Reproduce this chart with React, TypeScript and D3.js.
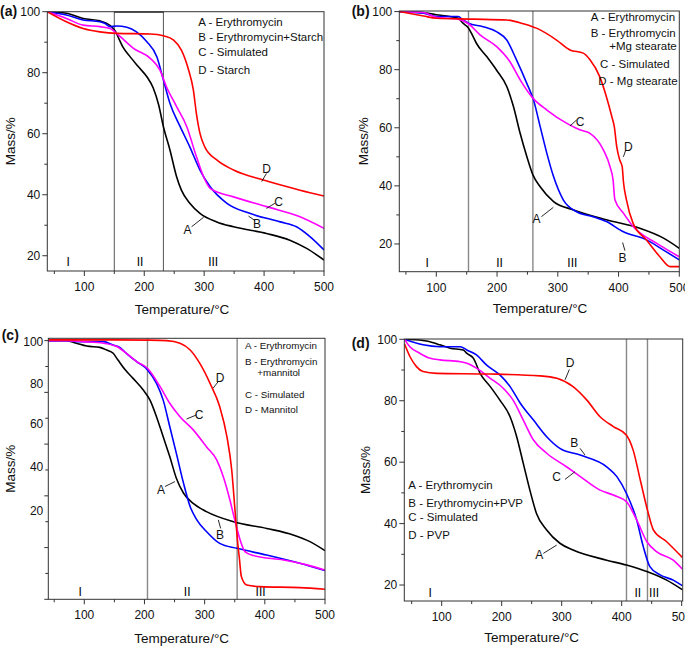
import React from "react";
import * as d3 from "d3";

type P = [number, number];

const FONT = "'Liberation Sans', Arial, Helvetica, sans-serif";
const COLORS = { A: "#000000", B: "#0000ff", C: "#ff00ff", D: "#ff0000" };

// ---------- Panel (a): Starch ----------
const aA: P[] = [[38,100],[70,99.5],[98,97.8],[126,97],[137,96.2],[146,95],[152,93.5],[158,91],[165,88.2],[175,85.6],[190,82],[205,78.5],[215,75],[224,69.5],[232,62.3],[243,54.6],[254,45.9],[262,41.5],[276,37.2],[293,33.9],[321,31.1],[349,29.5],[404,27.3],[443,25.1],[471,22.4],[500,18.6]];
const aB: P[] = [[38,100],[70,98.9],[98,97.3],[126,96.7],[134,96.2],[143,95.1],[154,95.3],[171,94.9],[187,93.4],[204,90.2],[221,85.2],[232,77.6],[243,69.9],[260,62.3],[276,55.7],[293,48.1],[310,42.6],[338,37.2],[376,33.9],[427,31.1],[454,29.5],[477,26.2],[500,21.9]];
const aC: P[] = [[38,100],[70,97.8],[98,95.6],[126,95.1],[143,94.5],[160,91.8],[182,88],[210,84.7],[226,80.9],[237,75.4],[254,68.9],[271,62.3],[287,52.5],[299,45.9],[310,42.1],[349,39.3],[404,36.1],[460,32.8],[500,29]];
const aD: P[] = [[38,100],[70,96.7],[98,94.5],[126,93.4],[154,92.9],[210,92.7],[232,92.1],[249,90.7],[262,87.4],[274,80.9],[282,74.3],[287,66.7],[293,60.1],[301,55.7],[321,51.4],[349,48.1],[399,44.8],[460,41.5],[500,39.6]];
const aLegend = ["A - Erythromycin", "B - Erythromycin+Starch", "C - Simulated", "D - Starch"];
const aRegions = [150, 232];
const aRoman: [string, number][] = [["I", 73], ["II", 193], ["III", 315]];
// label, label T, label M, leader from (T,M) to (T,M)
const aTags: [string, number, number, number, number, number, number][] = [
  ["D", 404, 48.6, 396, 44.3, 404, 47.0],
  ["C", 424, 37.7, 404, 35.5, 418, 37.2],
  ["B", 388, 30.6, 374, 33.0, 385, 31.5],
  ["A", 272, 28.6, 279, 29.5, 299, 32.6],
];

// ---------- Panel (b): Mg stearate ----------
const bA: P[] = [[39,100],[79,99.7],[100,98.9],[122,98.3],[136,97.7],[144,96],[153,94.3],[158,92.5],[166,89.1],[183,84.5],[199,79.9],[216,74.2],[227,67.3],[238,58.1],[249,50.1],[259,43.8],[271,39.7],[293,34.6],[326,31.7],[380,28.3],[435,25.4],[474,22],[500,18.5]];
const bB: P[] = [[39,100],[79,99.4],[100,98.3],[136,98.3],[144,97.1],[153,96],[177,94.8],[199,93.1],[216,90.2],[232,83.4],[249,75.3],[260,69.6],[271,60.4],[282,51.2],[293,43.2],[309,35.2],[331,31.1],[358,29.4],[380,27.7],[408,24.2],[446,21.4],[474,17.9],[500,14.5]];
const bC: P[] = [[39,100],[79,99.7],[100,98],[136,97.4],[153,95.8],[172,92],[199,88],[221,82.8],[238,76.5],[259,70.2],[282,66.1],[315,61.5],[336,59.3],[353,58.1],[375,52.4],[386,46.6],[391,42],[394,35.2],[408,30.6],[424,26],[463,20.2],[500,15.6]];
const bD: P[] = [[39,100],[79,98.5],[100,97.7],[161,97.4],[216,97.1],[243,95.8],[271,93.7],[298,90.2],[320,86.8],[342,85.7],[353,83.4],[369,77.6],[380,70.7],[389,63.8],[393,60.4],[397,53.5],[402,48.9],[406,46.6],[408,41.5],[413,35.2],[424,27.1],[446,21.4],[468,15.6],[485,12.2],[500,12.2]];
const bLegend = ["A - Erythromycin", "B - Erythromycin", "+Mg stearate", "C - Simulated", "D - Mg stearate"];
const bRegions = [153, 259];
const bRoman: [string, number][] = [["I", 85], ["II", 204], ["III", 324]];
const bTags: [string, number, number, number, number, number, number][] = [
  ["C", 336.5, 62.1, 320, 60.6, 331, 62.7],
  ["D", 416, 53.5, 408, 50.0, 412, 52.4],
  ["A", 265, 28.8, 273, 29.4, 292.6, 32.6],
  ["B", 406.7, 15.4, 406.7, 20.5, 410.5, 17.7],
];

// ---------- Panel (c): Mannitol ----------
const cA: P[] = [[40,100],[71,100],[87,99],[104,97.9],[126,97.4],[137,96.4],[148,95.1],[156,92.5],[168,88.7],[181,85.4],[198,80.9],[209,77.1],[220,70.6],[231,62.9],[242,55.2],[253,46.8],[265,41],[281,37.1],[303,33.9],[348,30],[403,27.4],[447,24.9],[475,22.3],[500,18.8]];
const cB: P[] = [[40,100],[71,100],[93,99.6],[132,99.6],[148,98.3],[159,97.4],[170,95.1],[187,91.9],[205,88.7],[220,83.5],[231,77.1],[242,66.8],[253,56.4],[265,44.8],[276,35.8],[287,30.7],[303,26.2],[325,21.6],[354,19.7],[403,17.1],[458,13.9],[500,11.1]];
const cC: P[] = [[40,100],[71,100],[98,99.6],[132,99],[154,97.7],[170,95.1],[187,91.9],[205,89.3],[226,82.2],[242,75.8],[259,70.6],[281,65.5],[303,59],[320,53.9],[331,47.4],[342,38.4],[350,30.7],[359,22.9],[367,18.4],[381,16.9],[431,15.2],[470,13.3],[500,11.3]];
const cD: P[] = [[40,100.3],[150,100.3],[209,100.2],[237,100],[259,99],[276,96.4],[292,91.2],[309,83.5],[325,74.5],[337,62.9],[345,50],[350,35.8],[354,24.2],[358,15.2],[361,8.8],[370,5.5],[392,4.9],[458,4.5],[500,3.9]];
const cLegend = ["A - Erythromycin", "B - Erythromycin", "+mannitol", "C - Simulated", "D - Mannitol"];
const cRegions = [205, 354];
const cRoman: [string, number][] = [["I", 93], ["II", 271], ["III", 393]];
const cYTickLabels = ["100", "80", "60", "40", "20"];
const cYTickLabelAt = [99.6, 83.5, 67.8, 51.3, 34.3];
const cTags: [string, number, number, number, number, number, number][] = [
  ["D", 325.5, 85.8, 314, 81.6, 322.7, 84.2],
  ["C", 290.6, 71.3, 270, 69.7, 286.7, 71.3],
  ["A", 227.4, 42.3, 234, 43.6, 250.7, 45.5],
  ["B", 325.5, 24.9, 322.7, 30.7, 326.6, 27.4],
];

// ---------- Panel (d): PVP ----------
const dA: P[] = [[38,100],[69,99.6],[86,98.9],[97,98.2],[114,97.1],[136,96.5],[142,95.4],[153,93.8],[164,88.9],[181,84.6],[197,80.2],[214,74.8],[225,68.3],[236,59.6],[247,50.9],[258,43.3],[275,37.9],[297,33.6],[319,31.4],[375,28.1],[408,26.5],[443,24.3],[475,21.6],[501,18.5]];
const dB: P[] = [[38,100],[69,98.2],[97,97.6],[131,97.6],[142,96.5],[158,94.9],[175,91.6],[197,88.4],[214,84.6],[231,79.2],[253,73.7],[275,68.3],[297,64.5],[331,62.3],[375,58.5],[392,55.3],[408,49.8],[425,41.2],[436,32.5],[447,26],[464,23.3],[486,21.6],[501,19.8]];
const dC: P[] = [[38,100],[47,97.6],[64,95.4],[81,93.8],[97,93.3],[131,92.7],[142,92.2],[158,90.6],[181,87.3],[203,84],[219,80.2],[236,73.7],[253,67.2],[275,62.9],[308,58.5],[331,55.3],[364,50.9],[386,49.3],[408,47.1],[425,41.2],[442,34.1],[458,30.9],[486,28.1],[501,25.2]];
const dD: P[] = [[38,98.5],[47,94.4],[58,91.1],[69,89.5],[92,88.9],[181,88.7],[264,88.1],[292,87.3],[319,84.6],[342,80.2],[364,74.8],[386,71.6],[408,68.8],[419,64],[431,54.2],[443,44.4],[453,37.9],[475,34.1],[501,29]];
const dLegend = ["A - Erythromycin", "B - Erythromycin+PVP", "C - Simulated", "D - PVP"];
const dRegions = [408, 443];
const dRoman: [string, number][] = [["I", 81], ["II", 427], ["III", 454]];
const dTags: [string, number, number, number, number, number, number][] = [
  ["D", 313.9, 92.4, 305.6, 86.8, 312.8, 90.2],
  ["B", 321, 66.3, 330.6, 64.5, 338.9, 62.3],
  ["C", 291.7, 55.3, 305.6, 54.4, 322.2, 56.9],
  ["A", 262.8, 29.8, 269.4, 30.3, 291.7, 33.0],
];

const xMajor = [100, 200, 300, 400, 500];
const xMinor = [50, 150, 250, 350, 450];
const yMajor = [20, 40, 60, 80, 100];
const yMinor = [30, 50, 70, 90];
const cYTicks = [0, 10, 20, 30, 40, 50, 60, 70, 80, 90, 100];

type Cfg = {
  id: string;
  name: string;
  left: number; right: number; top: number; bottom: number;
  xDomain: [number, number]; yDomain: [number, number];
  series: P[][];
  regions: number[];
  regionBox?: boolean;
  regionColor: string;
  roman: [string, number][];
  romanY: number;
  tags: [string, number, number, number, number, number, number][];
  legend: string[];
  legendPos: [number, number][];
  legendSize: number;
  labelPos: [number, number];
  xTitle: [number, number];
  yTitleX: number;
  cAxis?: boolean;
};

const panels: Cfg[] = [
  {
    id: "a", name: "(a)", left: 47.3, right: 324, top: 11.7, bottom: 271,
    xDomain: [38.2, 500], yDomain: [15, 100],
    series: [aA, aB, aC, aD], regions: aRegions, regionBox: true, regionColor: "#555",
    roman: aRoman, romanY: 266, tags: aTags, legend: aLegend,
    legendPos: [[198.3, 25.7], [198.3, 41.3], [198.3, 56.3], [198.3, 74]], legendSize: 11.5,
    labelPos: [0, 16], xTitle: [182, 314], yTitleX: 10,
  },
  {
    id: "b", name: "(b)", left: 399.3, right: 679.3, top: 11, bottom: 271.7,
    xDomain: [39.1, 500], yDomain: [10.45, 100.2],
    series: [bA, bB, bC, bD], regions: bRegions, regionColor: "#888",
    roman: bRoman, romanY: 267, tags: bTags, legend: bLegend,
    legendPos: [[590.7, 20.7], [590.7, 37], [609.3, 50], [600, 68.3], [598.3, 85]], legendSize: 11.5,
    labelPos: [351.7, 16], xTitle: [540, 313], yTitleX: 363,
  },
  {
    id: "c", name: "(c)", left: 48.3, right: 325, top: 338.3, bottom: 599.3,
    xDomain: [40.2, 500], yDomain: [0, 100.9],
    series: [cA, cB, cC, cD], regions: cRegions, regionColor: "#888",
    roman: cRoman, romanY: 596, tags: cTags, legend: cLegend,
    legendPos: [[245, 348.5], [245, 364.5], [257.3, 375.8], [245, 397.5], [245, 412.5]], legendSize: 9.8,
    labelPos: [1.7, 340], xTitle: [181.7, 643], yTitleX: 10, cAxis: true,
  },
  {
    id: "d", name: "(d)", left: 404.3, right: 682.7, top: 339, bottom: 601,
    xDomain: [37.7, 501.7], yDomain: [14.8, 100.1],
    series: [dA, dB, dC, dD], regions: dRegions, regionColor: "#888",
    roman: dRoman, romanY: 597, tags: dTags, legend: dLegend,
    legendPos: [[408.3, 489], [408.3, 506.7], [408.3, 520.7], [408.3, 539]], legendSize: 11.5,
    labelPos: [351.7, 348], xTitle: [531.7, 641.5], yTitleX: 365,
  },
];

const seriesColors = [COLORS.A, COLORS.B, COLORS.C, COLORS.D];

function Panel({ cfg }: { cfg: Cfg }) {
  const x = d3.scaleLinear().domain(cfg.xDomain).range([cfg.left, cfg.right]);
  const y = d3.scaleLinear().domain(cfg.yDomain).range([cfg.bottom, cfg.top]);
  const line = d3
    .line<P>()
    .x((d) => x(d[0]))
    .y((d) => y(d[1]))
    .curve(d3.curveMonotoneX);
  const clipId = "clip-" + cfg.id;
  const yMid = (cfg.top + cfg.bottom) / 2;
  const frame = "#333";

  return (
    <g fontFamily={FONT}>
      <defs>
        <clipPath id={clipId}>
          <rect x={cfg.left} y={cfg.top} width={cfg.right - cfg.left} height={cfg.bottom - cfg.top} />
        </clipPath>
      </defs>
      {cfg.regions.map((r, i) => (
        <line key={"r" + i} x1={x(r)} x2={x(r)} y1={cfg.top} y2={cfg.bottom}
          stroke={cfg.regionColor} strokeWidth={cfg.regionBox ? 1 : 1.4} />
      ))}
      {cfg.regionBox && (
        <line x1={x(cfg.regions[0])} x2={x(cfg.regions[1])} y1={cfg.top + 0.5} y2={cfg.top + 0.5}
          stroke="#222" strokeWidth={1.2} />
      )}
      {cfg.roman.map(([t, v]) => (
        <text key={t} x={x(v)} y={cfg.romanY} fontSize={12} textAnchor="middle" fill="#000">{t}</text>
      ))}
      <g clipPath={`url(#${clipId})`}>
        {cfg.series.map((s, i) => (
          <path key={i} d={line(s) || ""} fill="none" stroke={seriesColors[i]} strokeWidth={1.6}
            strokeLinejoin="round" />
        ))}
      </g>
      <rect x={cfg.left} y={cfg.top} width={cfg.right - cfg.left} height={cfg.bottom - cfg.top}
        fill="none" stroke={frame} strokeWidth={1} />
      {xMajor.map((t) => (
        <g key={"xm" + t}>
          <line x1={x(t)} x2={x(t)} y1={cfg.bottom} y2={cfg.bottom + 5} stroke={frame} />
          <text x={x(t)} y={cfg.bottom + 20} fontSize={12} textAnchor="middle" fill="#111">{t}</text>
        </g>
      ))}
      {xMinor.map((t) => (
        <line key={"xn" + t} x1={x(t)} x2={x(t)} y1={cfg.bottom} y2={cfg.bottom + 3} stroke={frame} />
      ))}
      {!cfg.cAxis && yMajor.filter((t) => t >= cfg.yDomain[0]).map((t) => (
        <g key={"ym" + t}>
          <line x1={cfg.left - 5} x2={cfg.left} y1={y(t)} y2={y(t)} stroke={frame} />
          <text x={cfg.left - 7} y={y(t) + 4.3} fontSize={12} textAnchor="end" fill="#111">{t}</text>
        </g>
      ))}
      {!cfg.cAxis && yMinor.map((t) => (
        <line key={"yn" + t} x1={cfg.left - 3} x2={cfg.left} y1={y(t)} y2={y(t)} stroke={frame} />
      ))}
      {cfg.cAxis && cYTicks.map((t, i) => (
        <line key={"yc" + t} x1={cfg.left - (i % 2 === 0 ? 4 : 3)} x2={cfg.left} y1={y(t)} y2={y(t)} stroke={frame} />
      ))}
      {cfg.cAxis && cYTickLabels.map((s, i) => (
        <text key={"yl" + s} x={cfg.left - 5} y={y(cYTickLabelAt[i]) + 4.3} fontSize={12} textAnchor="end" fill="#111">{s}</text>
      ))}
      {cfg.tags.map(([s, tx, ty, x1, y1, x2, y2]) => (
        <g key={"tag" + s}>
          <line x1={x(x1)} y1={y(y1)} x2={x(x2)} y2={y(y2)} stroke="#111" strokeWidth={0.9} />
          <text x={x(tx)} y={y(ty) + 4.3} fontSize={12} textAnchor="middle" fill="#111">{s}</text>
        </g>
      ))}
      {cfg.legend.map((s, i) => (
        <text key={"lg" + i} x={cfg.legendPos[i][0]} y={cfg.legendPos[i][1]} fontSize={cfg.legendSize} fill="#111">{s}</text>
      ))}
      <text x={cfg.labelPos[0]} y={cfg.labelPos[1]} fontSize={14} fontWeight="bold" fill="#111">{cfg.name}</text>
      <text x={cfg.xTitle[0]} y={cfg.xTitle[1]} fontSize={13.5} textAnchor="middle" fill="#111">Temperature/°C</text>
      <text transform={`translate(${cfg.yTitleX + 4.5},${yMid}) rotate(-90)`} fontSize={13.5} textAnchor="middle" fill="#111">Mass/%</text>
    </g>
  );
}

export default function App() {
  return (
    <svg width={685} height={646} viewBox="0 0 685 646"
      style={{ position: "absolute", left: 0, top: 0, background: "#fff" }}>
      <rect x={0} y={0} width={685} height={646} fill="#fff" />
      {panels.map((p) => (
        <Panel key={p.id} cfg={p} />
      ))}
    </svg>
  );
}
